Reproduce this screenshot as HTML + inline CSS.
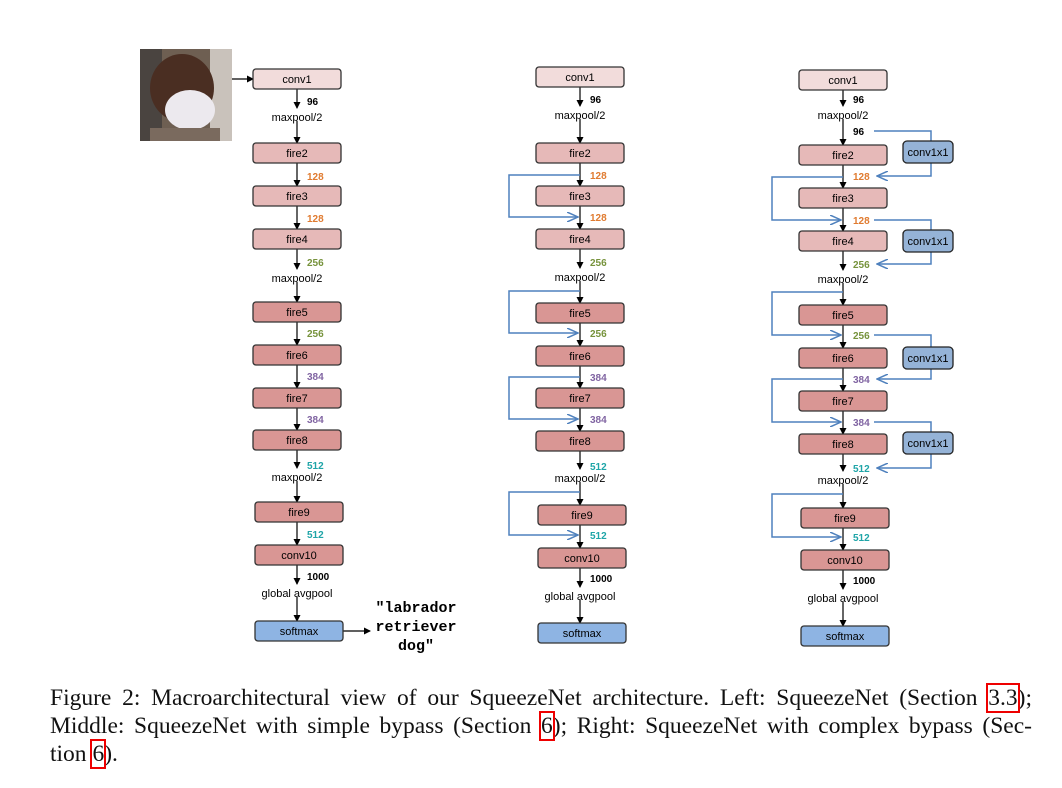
<!DOCTYPE html>
<html><head><meta charset="utf-8"><style>
body{margin:0;background:#fff;}
#wrap{position:relative;width:1062px;height:788px;overflow:hidden;background:#fff;}
svg{position:absolute;left:0;top:0;}
.cap{position:absolute;left:50px;width:982px;font-family:"Liberation Serif",serif;font-size:23.5px;color:#111;white-space:nowrap;line-height:28px;}
.j{text-align:justify;text-align-last:justify;}
.ref{outline:2px solid #e00;outline-offset:0px;}
</style></head><body>
<div id="wrap">
<svg id="svg" width="1062" height="788" viewBox="0 0 1062 788">
<defs><marker id="ah" markerWidth="7" markerHeight="7" refX="6" refY="3.5" orient="auto" markerUnits="userSpaceOnUse"><path d="M0,0 L7,3.5 L0,7 z" fill="#000"/></marker>
<marker id="ab" markerWidth="12" markerHeight="10" refX="11" refY="5" orient="auto" markerUnits="userSpaceOnUse"><path d="M0,0 L11,5 L0,10" fill="none" stroke="#4f81bd" stroke-width="1.5"/></marker></defs>
<g>
<rect x="140" y="49" width="92" height="92" fill="#6e5f52"/>
<rect x="140" y="49" width="22" height="92" fill="#4a4440"/>
<rect x="210" y="49" width="22" height="92" fill="#c9c2bb"/>
<ellipse cx="182" cy="88" rx="32" ry="34" fill="#4a2e22"/>
<ellipse cx="190" cy="110" rx="25" ry="20" fill="#ece9ee"/>
<rect x="150" y="128" width="70" height="13" fill="#7a6a5e"/>
</g>
<line x1="232" y1="79" x2="253" y2="79" stroke="#000" stroke-width="1.2" marker-end="url(#ah)"/>
<line x1="342" y1="631" x2="370" y2="631" stroke="#000" stroke-width="1.2" marker-end="url(#ah)"/>
<text x="416" y="612" font-family="Liberation Mono,monospace" font-weight="bold" font-size="15" text-anchor="middle"><tspan x="416">"labrador</tspan><tspan x="416" dy="19">retriever</tspan><tspan x="416" dy="19">dog"</tspan></text>
</svg>
<div class="cap j" style="top:684px">Figure 2: Macroarchitectural view of our SqueezeNet architecture. Left: SqueezeNet (Section <span class="ref">3.3</span>);</div>
<div class="cap j" style="top:712px">Middle: SqueezeNet with simple bypass (Section <span class="ref">6</span>); Right: SqueezeNet with complex bypass (Sec-</div>
<div class="cap" style="top:740px">tion <span class="ref">6</span>).</div>
</div>
<script>
const NS="http://www.w3.org/2000/svg";
const svg=document.getElementById('svg');
function mk(t,a,p){const e=document.createElementNS(NS,t);for(const k in a)e.setAttribute(k,a[k]);(p||svg).appendChild(e);return e;}
const names=["conv1","fire2","fire3","fire4","fire5","fire6","fire7","fire8","fire9","conv10","softmax"];
const fills=["#f2dcdb","#e6b9b8","#e6b9b8","#e6b9b8","#d99694","#d99694","#d99694","#d99694","#d99694","#d99694","#8eb4e3"];
const nums=["96","128","128","256","256","384","384","512","512","1000"];
const numColors=["#000","#e07b30","#e07b30","#77933c","#77933c","#8064a2","#8064a2","#1fa5a8","#1fa5a8","#000"];
const mids={0:"maxpool/2",3:"maxpool/2",7:"maxpool/2",9:"global avgpool"};
const cols=[
 {name:"left",cx:297,tops:[69,143,186,229,302,345,388,430,502,545,621],numY:[101,176,218,262,333,376,419,465,534,576],midY:[117,0,0,278,0,0,0,477,0,593]},
 {name:"middle",cx:580,tops:[67,143,186,229,303,346,388,431,505,548,623],numY:[99,175,217,262,333,377,419,466,535,578],midY:[115,0,0,277,0,0,0,478,0,596],
  loops:[[175,217],[291,333],[377,419],[492,535]],lx:509},
 {name:"right",cx:843,tops:[70,145,188,231,305,348,391,434,508,550,626],numY:[99,176,220,264,335,379,422,468,537,580],midY:[115,0,0,279,0,0,0,480,0,598],
  loops:[[177,220],[292,335],[379,422],[494,537]],lx:772,
  rloops:[[131,176,141],[220,264,230],[335,379,347],[422,468,432]],rx:931}
];
cols.forEach(c=>{
 const g=mk('g',{});
 
 
 const W=88,H=20;
 for(let i=0;i<names.length-1;i++){
  const y0=c.tops[i]+H, y1=c.tops[i+1];
  if(c.midY[i]){
   mk('line',{x1:c.cx,y1:y0,x2:c.cx,y2:c.midY[i]-9,stroke:"#000","stroke-width":1.2,"marker-end":"url(#ah)"},g);
   mk('line',{x1:c.cx,y1:c.midY[i]+4,x2:c.cx,y2:y1,stroke:"#000","stroke-width":1.2,"marker-end":"url(#ah)"},g);
   const t=mk('text',{x:c.cx,y:c.midY[i]+4,"font-family":"Liberation Sans,sans-serif","font-size":11,"text-anchor":"middle"},g);
   t.textContent=mids[i];
   
   
  } else {
   mk('line',{x1:c.cx,y1:y0,x2:c.cx,y2:y1,stroke:"#000","stroke-width":1.2,"marker-end":"url(#ah)"},g);
  }
  const n=mk('text',{x:c.cx+10,y:c.numY[i]+4,"font-family":"Liberation Sans,sans-serif","font-size":10,"font-weight":"bold",fill:numColors[i]},g);
  n.textContent=nums[i];
  
  
 }
 if(c.name==="right"){
  const n=mk('text',{x:c.cx+10,y:135,"font-family":"Liberation Sans,sans-serif","font-size":10,"font-weight":"bold"},g);
  n.textContent="96";
  
  
 }
 (c.loops||[]).forEach(l=>{
  const p=mk('path',{d:`M${c.cx},${l[0]} H${c.lx} V${l[1]} H${c.cx-2}`,fill:"none",stroke:"#4f81bd","stroke-width":1.5,"marker-end":"url(#ab)"},g);
  
  
 });
 (c.rloops||[]).forEach(l=>{
  const p=mk('path',{d:`M${c.cx+31},${l[0]} H${c.rx} V${l[1]} H${c.cx+34}`,fill:"none",stroke:"#4f81bd","stroke-width":1.5,"marker-end":"url(#ab)"},g);
  
  
  const r=mk('rect',{x:c.rx-28,y:l[2],width:50,height:22,rx:4,fill:"#95b3d7",stroke:"#222","stroke-width":1.3},g);
  
  
  const t=mk('text',{x:c.rx-3,y:l[2]+15,"font-family":"Liberation Sans,sans-serif","font-size":11,"text-anchor":"middle"},g);
  t.textContent="conv1x1";
  
  
 });
 names.forEach((nm,i)=>{
  const off=(i>=8)?2:0;
  const r=mk('rect',{x:c.cx-44+off,y:c.tops[i],width:W,height:H,rx:3,fill:fills[i],stroke:"#333","stroke-width":1.3},g);
  
  
  const t=mk('text',{x:c.cx+off,y:c.tops[i]+14,"font-family":"Liberation Sans,sans-serif","font-size":11,"text-anchor":"middle"},g);
  t.textContent=nm;
  
  
 });
});
</script>
</body></html>
